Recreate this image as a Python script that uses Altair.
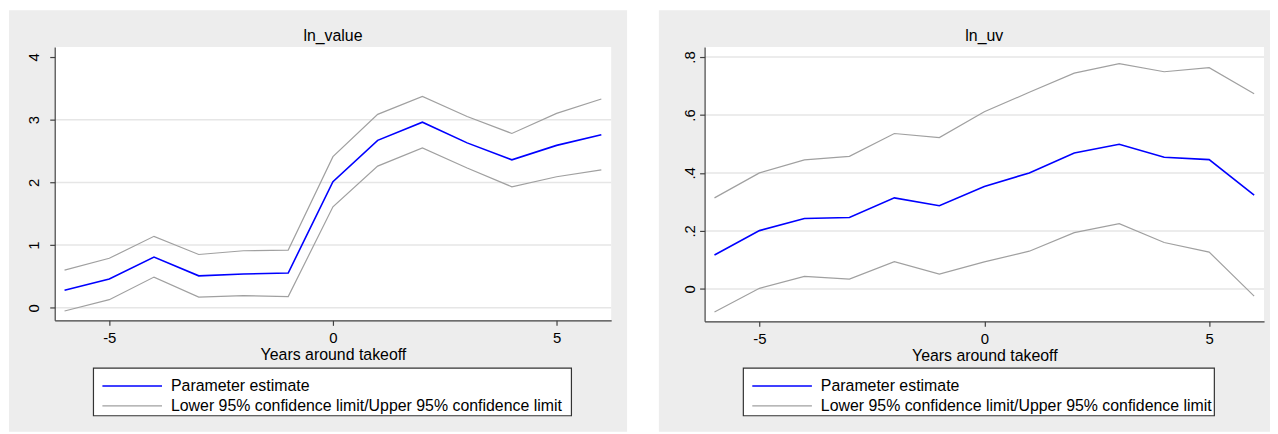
import altair as alt
import pandas as pd

# ---------------- data ----------------
years = [-6, -5, -4, -3, -2, -1, 0, 1, 2, 3, 4, 5, 6]

value_est = [0.28, 0.46, 0.81, 0.51, 0.54, 0.555, 2.01, 2.67, 2.96, 2.63, 2.36, 2.59, 2.76]
value_lo = [-0.05, 0.13, 0.49, 0.17, 0.195, 0.18, 1.61, 2.26, 2.55, 2.23, 1.93, 2.09, 2.20]
value_hi = [0.60, 0.79, 1.14, 0.85, 0.91, 0.92, 2.41, 3.085, 3.37, 3.05, 2.78, 3.10, 3.33]

uv_est = [0.117, 0.201, 0.243, 0.246, 0.314, 0.287, 0.353, 0.400, 0.469, 0.499, 0.454, 0.446, 0.323]
uv_lo = [-0.080, 0.002, 0.043, 0.034, 0.094, 0.051, 0.093, 0.130, 0.194, 0.225, 0.160, 0.127, -0.025]
uv_hi = [0.314, 0.400, 0.445, 0.457, 0.536, 0.522, 0.611, 0.678, 0.744, 0.777, 0.749, 0.763, 0.673]

value_ticks = [0, 1, 2, 3, 4]
value_grid = [0, 1, 2, 3]
uv_ticks = [0, 0.2, 0.4, 0.6, 0.8]
uv_grid = [0, 0.2, 0.4, 0.6, 0.8]
x_ticks = [-5, 0, 5]

LEG_EST = "Parameter estimate"
LEG_CI = "Lower 95% confidence limit/Upper 95% confidence limit"
legend_labels = [LEG_EST, LEG_CI]

FONT = "Liberation Sans"
BLUE = "#0000ff"
GRAY = "#a0a0a0"
PANEL_BG = "#ededed"


def make_df(est, lo, hi):
    rows = []
    for name, series, leg in [("est", est, LEG_EST), ("lo", lo, LEG_CI), ("hi", hi, LEG_CI)]:
        for yr, v in zip(years, series):
            rows.append({"year": yr, "val": v, "line": name, "legend": leg})
    return pd.DataFrame(rows)


def panel(title, df, grid_vals, ydomain, yticks, ylabelexpr, ylabelpad, width, height, gray_x2):
    dummy = pd.DataFrame({"a": [0]})
    xs = alt.Scale(domain=[-6.22, 6.22], nice=False, zero=False)
    ys = alt.Scale(domain=ydomain, nice=False, zero=False)
    yaxis = alt.Axis(values=yticks, title=None, grid=False, labelAngle=270,
                     labelAlign="center", labelBaseline="alphabetic",
                     labelPadding=ylabelpad, tickSize=5, labelExpr=ylabelexpr,
                     labelFontSize=15, zindex=2)
    xaxis = alt.Axis(values=x_ticks, title="Years around takeoff", grid=False,
                     tickSize=5, labelPadding=5, titlePadding=1,
                     labelExpr="'' + datum.value", labelFontSize=15, titleFontSize=16,
                     zindex=2)

    bg = alt.Chart(dummy).mark_rect(fill=PANEL_BG, strokeWidth=0).encode(
        x=alt.value(-46), x2=alt.value(gray_x2), y=alt.value(-37), y2=alt.value(387)
    )
    plotbg = alt.Chart(dummy).mark_rect(fill="white", strokeWidth=0).encode(
        x=alt.value(0), x2=alt.value(width), y=alt.value(0), y2=alt.value(height)
    )
    ttl = alt.Chart(pd.DataFrame({"t": [title]})).mark_text(
        font=FONT, fontSize=16, color="black", baseline="middle", align="center"
    ).encode(text="t:N", x=alt.value(width / 2), y=alt.value(-11))
    legbox = alt.Chart(dummy).mark_rect(fill="white", stroke="#333333", strokeWidth=1.2).encode(
        x=alt.value(39), x2=alt.value(gray_x2 - 56), y=alt.value(323), y2=alt.value(371)
    )
    grid = alt.Chart(pd.DataFrame({"g": grid_vals})).mark_rule(color="#e6e6e6", strokeWidth=1.5).encode(
        y=alt.Y("g:Q", scale=ys, axis=yaxis)
    )
    lines = alt.Chart(df).mark_line(clip=False).encode(
        x=alt.X("year:Q", scale=xs, axis=xaxis),
        y=alt.Y("val:Q", scale=ys, axis=yaxis),
        color=alt.Color("legend:N",
                        scale=alt.Scale(domain=legend_labels, range=[BLUE, GRAY]),
                        legend=alt.Legend(orient="none", legendX=40, legendY=333, title=None,
                                          symbolType="M0,0H12", symbolSize=100,
                                          symbolStrokeWidth=1.5, labelFontSize=16,
                                          labelFont=FONT, labelLimit=700, labelOffset=61,
                                          padding=0, rowPadding=4, direction="vertical",
                                          zindex=3)),
        strokeWidth=alt.StrokeWidth("legend:N",
                                    scale=alt.Scale(domain=legend_labels, range=[1.6, 1.2]),
                                    legend=None),
        detail="line:N",
    )
    return alt.layer(bg, plotbg, ttl, grid, legbox, lines).properties(
        width=width, height=height,
    )


left = panel("ln_value", make_df(value_est, value_lo, value_hi), value_grid,
             [-0.2, 4.157], value_ticks, "'' + datum.value", 11, 560, 275, 576)
right = panel("ln_uv", make_df(uv_est, uv_lo, uv_hi), uv_grid,
              [-0.112, 0.834], uv_ticks,
              "datum.value == 0 ? '0' : replace(format(datum.value, '.1f'), '0.', '.')",
              5, 563, 276, 569)

chart = alt.hconcat(left, right, spacing=94, bounds="flush").resolve_scale(
    color="independent", strokeWidth="independent"
).properties(
    padding={"left": 1, "top": 1, "right": 0, "bottom": 0},
    background="white",
).configure_view(stroke=None).configure_axis(
    domainColor="#404040", tickColor="#404040", domainWidth=1.2, tickWidth=1.2,
    labelColor="black", titleColor="black", labelFont=FONT, titleFont=FONT,
    titleFontWeight="normal",
)

chart.save("out.html", embed_options={"renderer": "svg", "actions": False})
